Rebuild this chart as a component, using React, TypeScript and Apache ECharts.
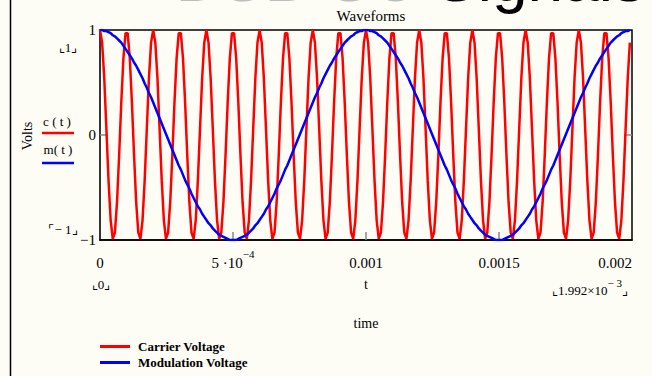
import React, { useEffect, useRef } from "react";
import * as echarts from "echarts";

// sampling step of the plotted waveforms (last sample at 1.992e-3 s)
const SAMPLE_STEP = 8e-6;

// carrier voltage c(t) samples
const carrierValues = [
  1, 0.88, 0.54, 0.06, -0.43, -0.81, -0.99, -0.93, -0.64, -0.19, 0.31, 0.73, 0.97, 0.97, 0.73, 0.31, -0.19, -0.64, -0.93, -0.99, -0.81, -0.43, 0.06, 0.54, 0.88,
  1, 0.88, 0.54, 0.06, -0.43, -0.81, -0.99, -0.93, -0.64, -0.19, 0.31, 0.73, 0.97, 0.97, 0.73, 0.31, -0.19, -0.64, -0.93, -0.99, -0.81, -0.43, 0.06, 0.54, 0.88,
  1, 0.88, 0.54, 0.06, -0.43, -0.81, -0.99, -0.93, -0.64, -0.19, 0.31, 0.73, 0.97, 0.97, 0.73, 0.31, -0.19, -0.64, -0.93, -0.99, -0.81, -0.43, 0.06, 0.54, 0.88,
  1, 0.88, 0.54, 0.06, -0.43, -0.81, -0.99, -0.93, -0.64, -0.19, 0.31, 0.73, 0.97, 0.97, 0.73, 0.31, -0.19, -0.64, -0.93, -0.99, -0.81, -0.43, 0.06, 0.54, 0.88,
  1, 0.88, 0.54, 0.06, -0.43, -0.81, -0.99, -0.93, -0.64, -0.19, 0.31, 0.73, 0.97, 0.97, 0.73, 0.31, -0.19, -0.64, -0.93, -0.99, -0.81, -0.43, 0.06, 0.54, 0.88,
  1, 0.88, 0.54, 0.06, -0.43, -0.81, -0.99, -0.93, -0.64, -0.19, 0.31, 0.73, 0.97, 0.97, 0.73, 0.31, -0.19, -0.64, -0.93, -0.99, -0.81, -0.43, 0.06, 0.54, 0.88,
  1, 0.88, 0.54, 0.06, -0.43, -0.81, -0.99, -0.93, -0.64, -0.19, 0.31, 0.73, 0.97, 0.97, 0.73, 0.31, -0.19, -0.64, -0.93, -0.99, -0.81, -0.43, 0.06, 0.54, 0.88,
  1, 0.88, 0.54, 0.06, -0.43, -0.81, -0.99, -0.93, -0.64, -0.19, 0.31, 0.73, 0.97, 0.97, 0.73, 0.31, -0.19, -0.64, -0.93, -0.99, -0.81, -0.43, 0.06, 0.54, 0.88,
  1, 0.88, 0.54, 0.06, -0.43, -0.81, -0.99, -0.93, -0.64, -0.19, 0.31, 0.73, 0.97, 0.97, 0.73, 0.31, -0.19, -0.64, -0.93, -0.99, -0.81, -0.43, 0.06, 0.54, 0.88,
  1, 0.88, 0.54, 0.06, -0.43, -0.81, -0.99, -0.93, -0.64, -0.19, 0.31, 0.73, 0.97, 0.97, 0.73, 0.31, -0.19, -0.64, -0.93, -0.99, -0.81, -0.43, 0.06, 0.54, 0.88,
];

// modulation voltage m(t) samples
const modulationValues = [
  1, 1, 0.99, 0.99, 0.98, 0.97, 0.95, 0.94, 0.92, 0.9,
  0.88, 0.85, 0.82, 0.79, 0.76, 0.73, 0.69, 0.66, 0.62, 0.58,
  0.54, 0.49, 0.45, 0.4, 0.36, 0.31, 0.26, 0.21, 0.16, 0.11,
  0.06, 0.01, -0.04, -0.09, -0.14, -0.19, -0.24, -0.29, -0.33, -0.38,
  -0.43, -0.47, -0.51, -0.56, -0.6, -0.64, -0.68, -0.71, -0.75, -0.78,
  -0.81, -0.84, -0.86, -0.89, -0.91, -0.93, -0.95, -0.96, -0.97, -0.98,
  -0.99, -1, -1, -1, -1, -0.99, -0.98, -0.97, -0.96, -0.95,
  -0.93, -0.91, -0.89, -0.86, -0.84, -0.81, -0.78, -0.75, -0.71, -0.68,
  -0.64, -0.6, -0.56, -0.51, -0.47, -0.43, -0.38, -0.33, -0.29, -0.24,
  -0.19, -0.14, -0.09, -0.04, 0.01, 0.06, 0.11, 0.16, 0.21, 0.26,
  0.31, 0.36, 0.4, 0.45, 0.49, 0.54, 0.58, 0.62, 0.66, 0.69,
  0.73, 0.76, 0.79, 0.82, 0.85, 0.88, 0.9, 0.92, 0.94, 0.95,
  0.97, 0.98, 0.99, 0.99, 1,
  1, 1, 0.99, 0.99, 0.98, 0.97, 0.95, 0.94, 0.92, 0.9,
  0.88, 0.85, 0.82, 0.79, 0.76, 0.73, 0.69, 0.66, 0.62, 0.58,
  0.54, 0.49, 0.45, 0.4, 0.36, 0.31, 0.26, 0.21, 0.16, 0.11,
  0.06, 0.01, -0.04, -0.09, -0.14, -0.19, -0.24, -0.29, -0.33, -0.38,
  -0.43, -0.47, -0.51, -0.56, -0.6, -0.64, -0.68, -0.71, -0.75, -0.78,
  -0.81, -0.84, -0.86, -0.89, -0.91, -0.93, -0.95, -0.96, -0.97, -0.98,
  -0.99, -1, -1, -1, -1, -0.99, -0.98, -0.97, -0.96, -0.95,
  -0.93, -0.91, -0.89, -0.86, -0.84, -0.81, -0.78, -0.75, -0.71, -0.68,
  -0.64, -0.6, -0.56, -0.51, -0.47, -0.43, -0.38, -0.33, -0.29, -0.24,
  -0.19, -0.14, -0.09, -0.04, 0.01, 0.06, 0.11, 0.16, 0.21, 0.26,
  0.31, 0.36, 0.4, 0.45, 0.49, 0.54, 0.58, 0.62, 0.66, 0.69,
  0.73, 0.76, 0.79, 0.82, 0.85, 0.88, 0.9, 0.92, 0.94, 0.95,
  0.97, 0.98, 0.99, 0.99, 1,
];

const xMin = 0;
const xMax = 0.002;
const xInterval = 0.0005;
const yMin = -1;
const yMax = 1;
const xMarkerTicks = [0.0005, 0.001, 0.0015];
const yMarkerTicks = [0];

const seriesNames = ["Carrier Voltage", "Modulation Voltage"];
const traceNames = ["c ( t )", "m( t )"];
const colors = ["#ff0000", "#0000ff"];

const SERIF = "'Liberation Serif', 'Times New Roman', 'DejaVu Serif', serif";

function xLabel(v: number): string {
  if (Math.abs(v) < 1e-12) return "{n|0}";
  if (Math.abs(v - 0.0005) < 1e-12) return "{n|5 ·10}{s|−4}";
  if (Math.abs(v - 0.001) < 1e-12) return "{n|0.001}";
  if (Math.abs(v - 0.0015) < 1e-12) return "{n|0.0015}";
  return "{n|0.002}";
}

export default function App() {
  const ref = useRef<HTMLDivElement>(null);
  useEffect(() => {
    if (!ref.current) return;
    const chart = echarts.init(ref.current, null, { renderer: "svg" });
    const carrier = carrierValues.map((v, i) => [i * SAMPLE_STEP, v]);
    const modulation = modulationValues.map((v, i) => [i * SAMPLE_STEP, v]);
    const txt = (x: number, y: number, text: string, extra: any = {}) => ({
      type: "text",
      x,
      y,
      style: {
        text,
        fontFamily: SERIF,
        fontSize: 13,
        fill: "#000",
        textAlign: "center",
        textVerticalAlign: "middle",
        ...extra,
      },
    });
    chart.setOption({
      animation: false,
      backgroundColor: "#fdfdf6",
      title: {
        text: "Waveforms",
        left: 366,
        top: 3,
        textAlign: "center",
        textStyle: { fontFamily: SERIF, fontSize: 15, fontWeight: "normal", color: "#000" },
      },
      grid: {
        left: 100,
        right: 20,
        top: 30,
        bottom: 136,
        show: true,
        borderColor: "#000",
        borderWidth: 1.5,
      },
      legend: {
        orient: "vertical",
        left: 100,
        top: 340,
        padding: 0,
        itemGap: 3,
        itemWidth: 30,
        itemHeight: 3,
        icon: "rect",
        data: seriesNames,
        textStyle: {
          fontFamily: SERIF,
          fontSize: 13,
          fontWeight: "bold",
          color: "#000",
          padding: [0, 0, 0, 3],
        },
      },
      xAxis: {
        type: "value",
        min: xMin,
        max: xMax,
        interval: xInterval,
        axisLine: { show: true, onZero: false, lineStyle: { color: "#000", width: 1.5 } },
        axisTick: {
          show: true,
          inside: true,
          length: 8,
          customValues: xMarkerTicks,
          lineStyle: { color: "#888", width: 1.5 },
        },
        splitLine: { show: false },
        axisLabel: {
          margin: 8,
          alignMaxLabel: "right",
          fontFamily: SERIF,
          fontSize: 15,
          color: "#000",
          formatter: xLabel,
          rich: {
            n: { fontFamily: SERIF, fontSize: 15, color: "#000", verticalAlign: "bottom", lineHeight: 22 },
            s: { fontFamily: SERIF, fontSize: 11, color: "#000", verticalAlign: "top", lineHeight: 11 },
          },
        },
      },
      yAxis: [
        {
          type: "value",
          min: yMin,
          max: yMax,
          interval: 1,
          axisLine: { show: true, lineStyle: { color: "#333", width: 1.5 } },
          axisTick: {
            show: true,
            inside: true,
            length: 8,
            customValues: yMarkerTicks,
            lineStyle: { color: "#888", width: 1.5 },
          },
          splitLine: { show: false },
          axisLabel: {
            margin: 4,
            fontFamily: SERIF,
            fontSize: 15,
            color: "#000",
            formatter: (v: number) => (v < 0 ? "−1" : String(v)),
          },
        },
        {
          type: "value",
          position: "right",
          min: yMin,
          max: yMax,
          interval: 1,
          axisLine: { show: false },
          axisTick: {
            show: true,
            inside: true,
            length: 8,
            customValues: yMarkerTicks,
            lineStyle: { color: "#888", width: 1.5 },
          },
          splitLine: { show: false },
          axisLabel: { show: false },
        },
      ],
      series: [
        {
          name: seriesNames[0],
          type: "line",
          data: carrier,
          showSymbol: false,
          symbol: "none",
          lineStyle: { color: colors[0], width: 2.5 },
          itemStyle: { color: colors[0] },
          z: 2,
        },
        {
          name: seriesNames[1],
          type: "line",
          data: modulation,
          showSymbol: false,
          symbol: "none",
          lineStyle: { color: colors[1], width: 2.5 },
          itemStyle: { color: colors[1] },
          z: 3,
        },
      ],
      graphic: [
        {
          type: "text",
          x: 645,
          y: -21,
          z: -1,
          style: {
            text: "{g|DSB-SC }{k|Signals}",
            fontFamily: "'Liberation Sans', Arial, sans-serif",
            fontSize: 64,
            textAlign: "right",
            textVerticalAlign: "middle",
            rich: {
              g: { fontFamily: "'Liberation Sans', Arial, sans-serif", fontSize: 64, fill: "#bdbdbd" },
              k: { fontFamily: "'Liberation Sans', Arial, sans-serif", fontSize: 64, fill: "#000" },
            },
          },
        },
        {
          type: "line",
          shape: { x1: 10.5, y1: 0, x2: 10.5, y2: 376 },
          style: { stroke: "#000", lineWidth: 1.5 },
        },
        {
          type: "text",
          x: 27,
          y: 136,
          rotation: Math.PI / 2,
          style: {
            text: "Volts",
            fontFamily: SERIF,
            fontSize: 14,
            fill: "#000",
            textAlign: "center",
            textVerticalAlign: "middle",
          },
        },
        txt(57, 121, traceNames[0]),
        { type: "line", shape: { x1: 42, y1: 133, x2: 74, y2: 133 }, style: { stroke: colors[0], lineWidth: 2.5 } },
        txt(58, 149, traceNames[1]),
        { type: "line", shape: { x1: 42, y1: 163, x2: 74, y2: 163 }, style: { stroke: colors[1], lineWidth: 2.5 } },
        txt(68, 47, "⌞1⌟", { fontSize: 13 }),
        txt(63, 229, "⌜− 1⌟", { fontSize: 13 }),
        txt(101, 284, "⌞0⌟", { fontSize: 13 }),
        txt(366, 284, "t", { fontSize: 14 }),
        {
          type: "text",
          x: 628,
          y: 287,
          style: {
            text: "{n|⌞1.992×10}{s|− 3}{n|⌟}",
            textAlign: "right",
            textVerticalAlign: "middle",
            rich: {
              n: { fontFamily: SERIF, fontSize: 13, fill: "#000", verticalAlign: "bottom", lineHeight: 19 },
              s: { fontFamily: SERIF, fontSize: 11, fill: "#000", verticalAlign: "top", lineHeight: 11 },
            },
          },
        },
        txt(366, 323, "time", { fontSize: 14 }),
      ],
    });
    return () => chart.dispose();
  }, []);
  return (
    <div
      ref={ref}
      style={{ position: "fixed", left: 0, top: 0, width: 652, height: 376 }}
    />
  );
}
